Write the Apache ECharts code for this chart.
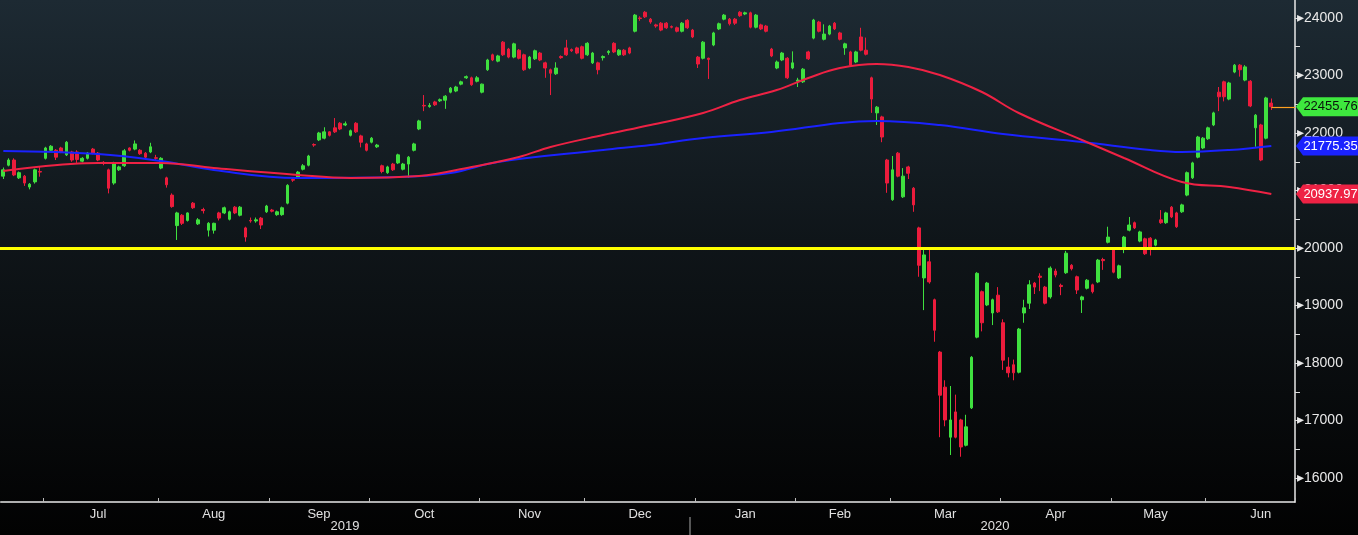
<!DOCTYPE html>
<html><head><meta charset="utf-8">
<script src="https://cdn.jsdelivr.net/npm/echarts@6/dist/echarts.min.js"></script>
<style>html,body{margin:0;padding:0;background:#000}#c{width:1358px;height:535px}</style>
</head><body><div id="c"></div>
<script>
// Trading calendar
const startDate = '2019-06-19';
const endDate = '2020-06-30';
const holidays = ['2019-07-15','2019-08-12','2019-09-16','2019-09-23','2019-10-14','2019-10-22','2019-11-04','2019-12-31','2020-01-01','2020-01-02','2020-01-03','2020-01-13','2020-02-11','2020-02-24','2020-03-20','2020-04-29','2020-05-04','2020-05-05','2020-05-06'];
const monthNames = ['Jan','Feb','Mar','Apr','May','Jun','Jul','Aug','Sep','Oct','Nov','Dec'];
const slotCount = 246;
const yLabels = [16000,17000,18000,19000,20000,21000,22000,23000,24000];
const yTicks = [16000,16500,17000,17500,18000,18500,19000,19500,20000,20500,21000,21500,22000,22500,23000,23500,24000];
const supportLevel = 20000;

// OHLC: [open, close, low, high]
const ohlc = [
[21250,21360,21200,21400],[21440,21530,21420,21560],[21530,21270,21250,21560],[21220,21310,21200,21330],[21250,21130,21080,21270],
[21060,21110,21020,21130],[21150,21360,21120,21380],[21330,21320,21240,21420],[21560,21740,21540,21760],[21700,21770,21680,21790],
[21700,21580,21530,21720],[21740,21670,21650,21760],[21620,21840,21600,21860],[21670,21530,21500,21690],[21670,21540,21480,21700],
[21510,21560,21490,21580],[21560,21650,21540,21670],[21720,21650,21630,21740],[21650,21530,21510,21670],[21490,21470,21440,21510],
[21360,21040,20950,21380],[21130,21480,21100,21500],[21360,21410,21340,21430],[21430,21690,21410,21720],[21740,21700,21680,21750],
[21720,21810,21700,21870],[21700,21640,21620,21720],[21650,21580,21540,21670],[21670,21760,21650,21830],[21570,21560,21530,21620],
[21390,21560,21370,21580],[21220,21100,21050,21240],[20920,20720,20700,20950],[20390,20610,20140,20630],[20570,20430,20400,20590],
[20480,20610,20460,20620],[20780,20700,20680,20800],[20420,20490,20400,20520],[20670,20650,20600,20700],[20310,20430,20200,20450],
[20310,20430,20250,20440],[20610,20520,20480,20630],[20610,20700,20590,20720],[20500,20630,20480,20650],[20710,20610,20590,20730],
[20570,20710,20550,20730],[20350,20190,20110,20370],[20480,20470,20440,20530],[20470,20490,20440,20530],[20520,20400,20330,20540],
[20630,20730,20610,20750],[20660,20640,20620,20680],[20580,20630,20560,20650],[20580,20700,20560,20720],[20780,21090,20760,21110],
[21190,21180,21150,21230],[21230,21320,21210,21340],[21370,21430,21350,21460],[21440,21600,21420,21620],[21800,21790,21760,21820],
[21880,22000,21860,22020],[21910,22020,21890,22100],[22020,21960,21940,22030],[22090,22020,22000,22260],[22170,22070,22050,22190],
[22140,22160,22120,22200],[21960,22040,21940,22060],[22170,22020,22000,22190],[21950,21840,21750,21970],[21810,21700,21680,21830],
[21840,21910,21820,21930],[21760,21790,21740,21810],[21430,21330,21300,21450],[21310,21410,21290,21430],[21460,21360,21340,21480],
[21480,21620,21460,21640],[21370,21460,21350,21480],[21460,21580,21220,21600],[21700,21810,21680,21830],[22070,22210,22050,22230],
[22480,22470,22380,22660],[22460,22480,22440,22520],[22540,22490,22470,22560],[22560,22580,22540,22600],[22570,22640,22420,22660],
[22710,22780,22690,22800],[22730,22800,22710,22820],[22850,22890,22830,22910],[22960,22980,22940,23000],[22960,22840,22820,22980],
[22900,22960,22880,22990],[22710,22850,22690,22860],[23100,23270,23080,23290],[23360,23270,23250,23380],[23250,23340,23230,23360],
[23580,23360,23340,23600],[23460,23320,23300,23480],[23320,23550,23300,23570],[23440,23300,23280,23460],[23360,23100,23080,23380],
[23130,23320,23110,23340],[23290,23430,23270,23450],[23390,23270,23250,23410],[23220,23130,22960,23240],[23100,23040,22660,23120],
[23030,23130,23010,23230],[23330,23310,23290,23350],[23480,23360,23340,23620],[23450,23430,23410,23470],[23480,23390,23370,23500],
[23500,23300,23280,23520],[23360,23560,23340,23580],[23220,23390,23200,23410],[23220,23100,23020,23240],[23310,23330,23260,23350],
[23400,23420,23360,23440],[23560,23410,23390,23580],[23360,23440,23340,23460],[23440,23360,23340,23460],[23480,23390,23370,23500],
[23770,24050,23750,24070],[24000,23990,23950,24030],[24100,24020,24000,24120],[23980,23930,23900,24000],[23880,23860,23830,23900],
[23910,23790,23770,23930],[23910,23830,23810,23930],[23850,23840,23820,23870],[23830,23770,23750,23850],[23770,23910,23750,23930],
[23960,23830,23810,23980],[23790,23670,23650,23810],[23320,23200,23130,23340],[23300,23580,23280,23600],[23300,23280,22940,23310],
[23530,23740,23510,23760],[23810,23900,23790,23920],[23980,24050,23960,24070],[23980,23900,23870,24000],[23980,23910,23880,24000],
[24100,24040,24020,24120],[24070,24090,24050,24110],[24090,23840,23820,24110],[23840,24050,23820,24070],[23880,23810,23790,23900],
[23860,23770,23750,23880],[23460,23340,23320,23480],[23130,23235,23110,23260],[23270,23390,23250,23410],[23300,22960,22940,23320],
[23130,23220,23110,23420],[22900,22920,22800,22960],[22890,23110,22870,23130],[23410,23290,23270,23430],[23650,23965,23630,23985],
[23930,23770,23750,23950],[23630,23720,23610,23890],[23720,23860,23700,23880],[23910,23810,23790,23930],[23740,23630,23610,23760],
[23480,23550,23360,23570],[23410,23180,23160,23430],[23235,23410,23215,23430],[23670,23440,23420,23830],[23440,23370,23350,23660],
[22960,22590,22350,22980],[22350,22450,22140,22470],[22280,21930,21840,22300],[21530,21130,20960,21550],[20840,21360,20820,21600],
[21650,21250,21230,21670],[20890,21250,20870,21390],[21410,21300,21200,21430],[21040,20750,20630,21060],[20350,19700,19500,20370],
[19480,19880,18920,20000],[19760,19410,19380,19980],[19100,18570,18370,19120],[18190,17440,16710,18210],[17580,17010,16900,17700],
[16710,17010,16400,17600],[17150,16710,16690,17450],[17010,16540,16370,17030],[16570,16890,16550,17100],[17220,18100,17200,18120],
[18450,19560,18430,19580],[19240,18700,18550,19260],[19010,19390,18990,19410],[18870,19100,18660,19120],[19180,18890,18870,19320],
[18700,18050,17880,18760],[17930,17830,17750,18100],[17970,17830,17700,18060],[17840,18590,17820,18610],[18870,18960,18700,19100],
[19040,19360,18940,19440],[19390,19320,19200,19410],[19510,19490,19250,19560],[19320,19040,19020,19340],[19150,19650,19120,19680],
[19600,19530,19490,19640],[19350,19330,19180,19380],[19570,19910,19550,19950],[19700,19640,19610,19720],[19500,19270,19200,19520],
[19100,19150,18870,19170],[19300,19440,19280,19460],[19360,19240,19210,19380],[19410,19790,19390,19810],[19800,19780,19620,19830],
[20100,20190,20080,20370],[19970,19580,19560,19990],[19480,19690,19460,19710],[20000,20190,19910,20210],[20310,20400,20290,20540],
[20440,20350,20330,20460],[20120,20280,20100,20300],[20160,19900,19880,20180],[20170,20020,19870,20190],[20050,20140,20030,20160],
[20490,20440,20420,20660],[20440,20610,20420,20630],[20710,20540,20520,20730],[20610,20370,20350,20630],[20630,20750,20610,20770],
[20920,21310,20900,21330],[21220,21480,21200,21500],[21580,21930,21560,21950],[21740,21910,21720,21930],[21900,22090,21880,22110],
[22140,22350,22120,22370],[22710,22630,22380,22800],[22890,22630,22550,22910],[22590,22870,22570,22890],[23060,23180,23040,23200],
[23180,23100,22980,23200],[22920,23150,22900,23180],[22900,22470,22450,22920],[22090,22310,21760,22330],[22140,21530,21510,22160],
[21910,22610,21890,22630],[22520,22455.76,22400,22600]
];
// moving averages read at sample points: [index, value]
const ma100 = [[0,21340],[18,21478],[30,21478],[40,21392],[56,21270],[66,21218],[79,21252],[89,21409],[98,21583],[104,21757],[114,21965],[123,22139],[133,22348],[140,22574],[147,22748],[153,22957],[159,23130],[166,23200],[172,23148],[178,23009],[186,22713],[193,22348],[205,21878],[213,21566],[224,21148],[233,21061],[241,20937.97]];
const ma200 = [[0,21687],[18,21635],[30,21513],[40,21357],[56,21218],[75,21235],[85,21305],[94,21496],[114,21704],[123,21791],[133,21913],[146,22017],[159,22174],[166,22209],[178,22139],[190,21983],[205,21844],[218,21704],[224,21670],[233,21704],[241,21775.35]];

// build dates
const hol = new Set(holidays);
const allDates = [];
for (let d = new Date(startDate + 'T00:00:00Z'); d <= new Date(endDate + 'T00:00:00Z'); d.setUTCDate(d.getUTCDate() + 1)) {
  const wd = d.getUTCDay(); const s = d.toISOString().slice(0, 10);
  if (wd !== 0 && wd !== 6 && !hol.has(s)) allDates.push(s);
}
const categories = allDates.slice(0, slotCount);
const monthStart = new Set(), monthMid = {};
const groups = {};
allDates.forEach((s, i) => { const k = s.slice(0, 7); (groups[k] = groups[k] || []).push(i); });
Object.keys(groups).forEach(k => {
  const g = groups[k]; if (k === startDate.slice(0, 7)) return;
  monthStart.add(g[0]);
  monthMid[Math.floor((g[0] + g[g.length - 1]) / 2)] = monthNames[+k.slice(5, 7) - 1];
});

const GREEN = '#3fe03f', RED = '#ec1c3c';
const FONT = '"Liberation Sans", sans-serif';
const chart = echarts.init(document.getElementById('c'));
const last = ohlc[ohlc.length - 1][1];
chart.setOption({
  animation: false,
  backgroundColor: { type: 'linear', x: 0, y: 0, x2: 0, y2: 1, colorStops: [{ offset: 0, color: '#1d2a33' }, { offset: 0.45, color: '#0f1519' }, { offset: 1, color: '#020202' }] },
  grid: { left: 0.7, right: 63, top: 0, bottom: 33 },
  xAxis: {
    type: 'category', data: categories, boundaryGap: true,
    axisLine: { lineStyle: { color: '#e8e8e8', width: 1.5 } },
    axisTick: { show: true, inside: true, length: 4, interval: (i) => monthStart.has(i), lineStyle: { color: '#bbb' } },
    axisLabel: { interval: (i) => monthMid[i] !== undefined, formatter: (v, i) => monthMid[i] || '', color: '#e0e0e0', fontSize: 13, fontFamily: FONT, margin: 6 },
    splitLine: { show: false }
  },
  yAxis: {
    type: 'value', position: 'right', min: 15583, max: 24313, scale: true,
    axisLine: { show: true, lineStyle: { color: '#e8e8e8', width: 1.5 } },
    axisTick: { show: true, length: 5, lineStyle: { color: '#ddd' }, customValues: yTicks },
    axisLabel: { color: '#e8e8e8', fontSize: 14, fontFamily: FONT, margin: 2, customValues: yLabels, formatter: v => '▸' + v },
    splitLine: { show: false }
  },
  series: [
    { type: 'candlestick', data: ohlc, barWidth: 3.2,
      itemStyle: { color: GREEN, color0: RED, borderColor: GREEN, borderColor0: RED, borderWidth: 1 },
      markLine: { silent: true, symbol: 'none', label: { show: false },
        data: [
          [{ coord: [0, supportLevel], x: 0, lineStyle: { color: '#ffff00', width: 3, type: 'solid' } }, { coord: [slotCount - 1, supportLevel], x: 1295 }],
          [{ coord: [ohlc.length - 1, last], lineStyle: { color: '#ffa020', width: 1.2, type: 'solid' } }, { coord: [slotCount - 1, last], x: 1295 }]
        ] } },
    { type: 'line', data: ma200, smooth: 0.4, symbol: 'none', lineStyle: { color: '#1a22ff', width: 2 }, z: 3 },
    { type: 'line', data: ma100, smooth: 0.4, symbol: 'none', lineStyle: { color: '#ee2244', width: 2 }, z: 3 }
  ]
});
function tag(value, bg, fg) {
  const y = chart.convertToPixel({ yAxisIndex: 0 }, value);
  const x = 1296, h = 19, w = 62;
  return { type: 'group', z: 100, children: [
    { type: 'polygon', z: 100, shape: { points: [[x, y], [x + 7, y - h / 2], [x + w, y - h / 2], [x + w, y + h / 2], [x + 7, y + h / 2]] }, style: { fill: bg } },
    { type: 'text', z: 101, style: { x: x + 34.5, y: y, text: value.toFixed(2), fill: fg, font: '13px ' + FONT, align: 'center', verticalAlign: 'middle' } }
  ] };
}
chart.setOption({ graphic: [
  tag(last, '#3ee83e', '#0a140a'),
  tag(ma200[ma200.length - 1][1], '#1a22ff', '#ffffff'),
  tag(ma100[ma100.length - 1][1], '#ee2244', '#ffffff'),
  { type: 'text', style: { x: 345, y: 520, text: '2019', fill: '#e0e0e0', font: '13px ' + FONT, align: 'center' } },
  { type: 'text', style: { x: 995, y: 520, text: '2020', fill: '#e0e0e0', font: '13px ' + FONT, align: 'center' } },
  { type: 'line', shape: { x1: 690, y1: 517, x2: 690, y2: 535 }, style: { stroke: '#aaa', lineWidth: 1 } }
] });
</script></body></html>
